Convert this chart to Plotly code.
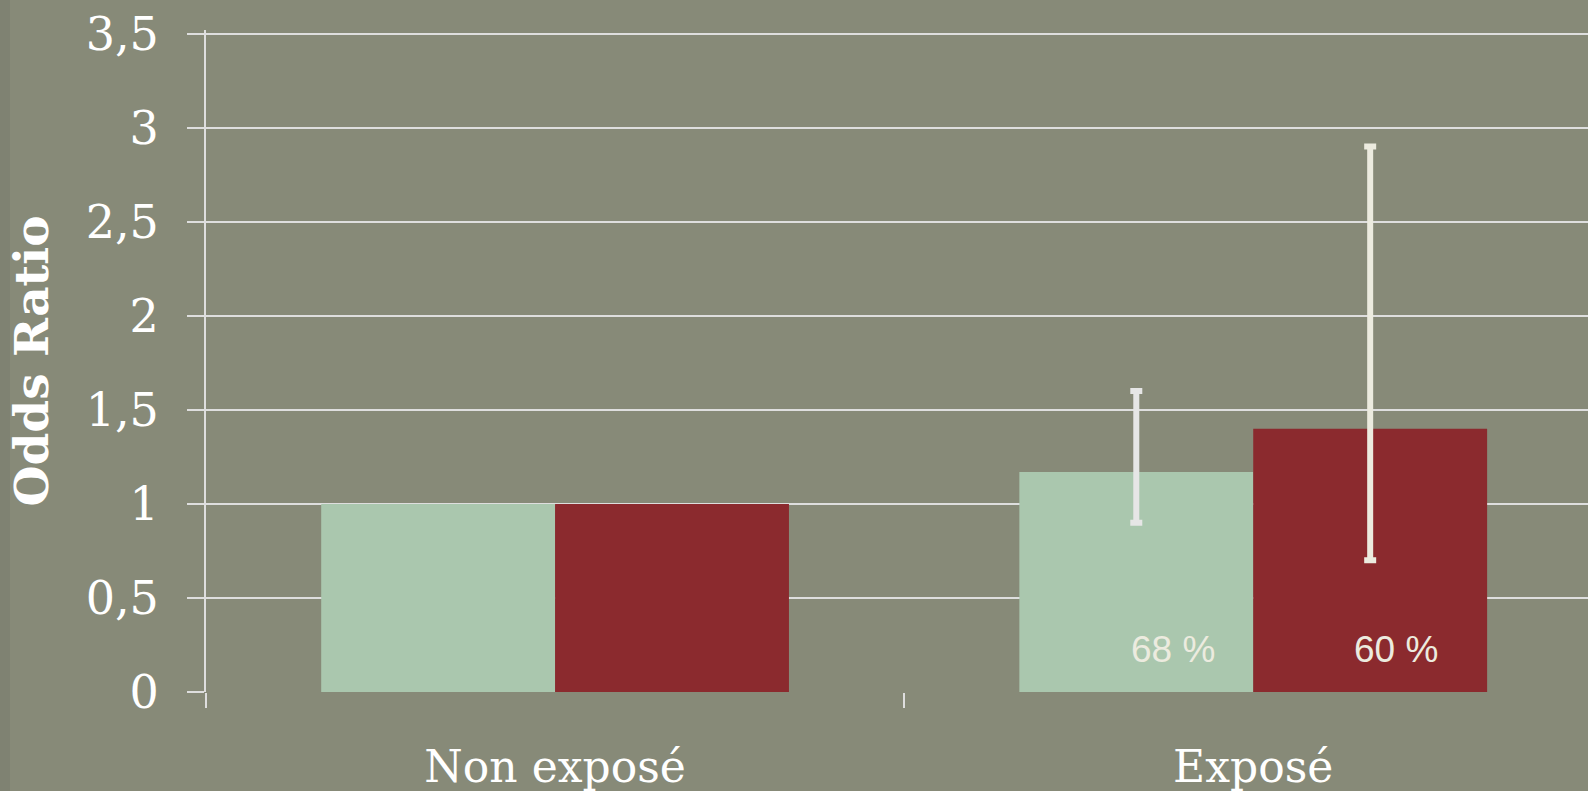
import plotly.graph_objects as go

categories = ["Non exposé", "Exposé"]
series_names = ["Série A", "Série B"]
values_a = [1.0, 1.17]
values_b = [1.0, 1.40]
ci_low_a = [None, 0.90]
ci_high_a = [None, 1.60]
ci_low_b = [None, 0.70]
ci_high_b = [None, 2.90]
pct_labels_a = ["", "68 %"]
pct_labels_b = ["", "60 %"]

BG = "#878a78"
GREEN = "#aac7ae"
RED = "#8b2a2e"
GRID = "#dedede"
SERIF = "DejaVu Serif"

fig = go.Figure()


def add_series(vals, hi, lo, name, color, errcolor, group):
    for cat, v, h, l in zip(categories, vals, hi, lo):
        kw = {}
        if h is not None:
            kw["error_y"] = dict(type="data", symmetric=False, array=[h - v], arrayminus=[v - l],
                                 color=errcolor, thickness=6, width=6)
        fig.add_trace(go.Bar(x=[cat], y=[v], name=name, offsetgroup=group,
                             marker=dict(color=color, line=dict(width=0)), **kw))


add_series(values_a, ci_high_a, ci_low_a, series_names[0], GREEN, "#e6e6e6", "a")
add_series(values_b, ci_high_b, ci_low_b, series_names[1], RED, "#ecebdf", "b")

bargap = 0.33
half = (1 - bargap) / 4
annotations = []
for i, (la, lb) in enumerate(zip(pct_labels_a, pct_labels_b)):
    if la:
        annotations.append(dict(x=i - half, y=0.227, xref="x", yref="y", text=la, showarrow=False,
                                xshift=37, font=dict(family="Liberation Sans", size=37, color="#ecebdf")))
    if lb:
        annotations.append(dict(x=i + half, y=0.227, xref="x", yref="y", text=lb, showarrow=False,
                                xshift=26, font=dict(family="Liberation Sans", size=37, color="#ecebdf")))

fig.update_layout(
    width=1588, height=791,
    paper_bgcolor=BG, plot_bgcolor=BG,
    margin=dict(l=206, r=0, t=30, b=99),
    barmode="group", bargap=bargap, bargroupgap=0,
    showlegend=False,
    separators=", ",
    annotations=annotations,
    shapes=[dict(type="rect", xref="paper", yref="paper", x0=-206/1382, x1=-196/1382, y0=-99/662, y1=1 + 30/662,
                 fillcolor="#7f8272", line=dict(width=0), layer="below")],
)
fig.update_xaxes(
    type="category", range=[-0.5, 1.4795],
    showgrid=False, showline=False, zeroline=False,
    ticks="outside", tickson="boundaries", ticklen=15, tickwidth=2, tickcolor=GRID,
    tickfont=dict(family=SERIF, size=44, color="white"),
    ticklabelstandoff=45,
)
fig.update_yaxes(
    range=[0, 3.52], tickvals=[0, 0.5, 1, 1.5, 2, 2.5, 3, 3.5],
    showgrid=True, gridcolor=GRID, gridwidth=2,
    showline=True, linecolor=GRID, linewidth=2,
    zeroline=False,
    ticks="outside", ticklen=17, tickwidth=2, tickcolor=GRID,
    tickfont=dict(family=SERIF, size=46, color="white"),
    ticklabelstandoff=19,
    title=dict(text="<b>Odds Ratio</b>", font=dict(family=SERIF, size=47, color="white"), standoff=22),
)

fig.write_html("out.html", config={"displayModeBar": False},
               post_script="document.body.style.margin='0';document.body.style.overflow='hidden';")
